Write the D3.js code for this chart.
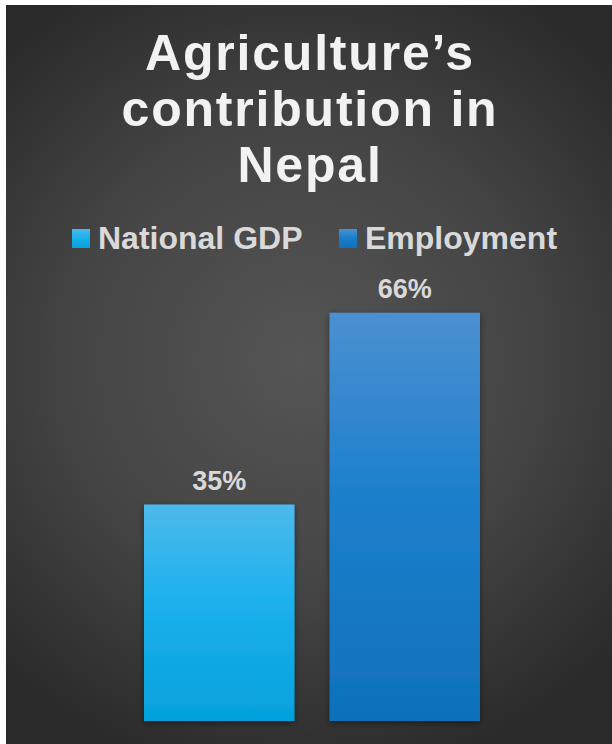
<!DOCTYPE html>
<html>
<head>
<meta charset="utf-8">
<script src="https://cdn.jsdelivr.net/npm/d3@7"></script>
<style>
html,body{margin:0;padding:0;background:#fff;}
svg{display:block;}
text{font-family:"Liberation Sans",Arial,sans-serif;font-weight:bold;}
</style>
</head>
<body>
<svg id="chart" width="612" height="744"></svg>
<script>
const titleLines = ["Agriculture’s", "contribution in", "Nepal"];
const series = ["National GDP", "Employment"];
const values = [0.35, 0.66];
const labels = ["35%", "66%"];

const svg = d3.select("#chart");
const defs = svg.append("defs");

// background radial gradient
const bg = defs.append("radialGradient").attr("id","bg")
  .attr("gradientUnits","userSpaceOnUse")
  .attr("cx",300).attr("cy",360).attr("r",430);
bg.append("stop").attr("offset","0%").attr("stop-color","#555555");
bg.append("stop").attr("offset","55%").attr("stop-color","#444444");
bg.append("stop").attr("offset","100%").attr("stop-color","#2a2a2a");

svg.append("rect").attr("x",6).attr("y",5).attr("width",606).attr("height",739).attr("fill","url(#bg)");

// bar gradients
const grads = [
  ["#4db9eb","#1cb1ed","#04a1dd"],
  ["#4b90d2","#1d7fcc","#0f71ba"]
];
grads.forEach((g,i)=>{
  const lg = defs.append("linearGradient").attr("id","g"+i).attr("x1",0).attr("y1",0).attr("x2",0).attr("y2",1);
  lg.append("stop").attr("offset","0%").attr("stop-color",g[0]);
  lg.append("stop").attr("offset","45%").attr("stop-color",g[1]);
  lg.append("stop").attr("offset","100%").attr("stop-color",g[2]);
});
const sh = defs.append("filter").attr("id","shadow").attr("x","-20%").attr("y","-20%").attr("width","140%").attr("height","140%");
sh.append("feDropShadow").attr("dx",0).attr("dy",2).attr("stdDeviation",3).attr("flood-color","#000").attr("flood-opacity",0.45);

// title
const title = svg.append("g").attr("transform","translate(310,0)");
title.selectAll("text").data(titleLines).join("text")
  .attr("x",0).attr("y",(d,i)=>70+i*56)
  .attr("text-anchor","middle")
  .attr("font-size",50)
  .attr("letter-spacing",1.8)
  .attr("fill","#f2f2f2")
  .text(d=>d);

// scales
const x = d3.scaleBand().domain(series).range([144,480]).paddingInner(0.189);
const y = d3.scaleLinear().domain([0,0.70]).range([721,288]);

// bars
svg.append("g").selectAll("rect").data(series).join("rect")
  .attr("x",d=>x(d))
  .attr("width",x.bandwidth())
  .attr("y",(d,i)=>y(values[i]))
  .attr("height",(d,i)=>y(0)-y(values[i]))
  .attr("fill",(d,i)=>`url(#g${i})`)
  .attr("filter","url(#shadow)");

// data labels
svg.append("g").selectAll("text").data(series).join("text")
  .attr("x",d=>x(d)+x.bandwidth()/2)
  .attr("y",(d,i)=>y(values[i])-15)
  .attr("text-anchor","middle")
  .attr("font-size",27)
  .attr("fill","#d9d9d9")
  .text((d,i)=>labels[i]);

// legend
const legX = [72,339];
const leg = svg.append("g").selectAll("g").data(series).join("g")
  .attr("transform",(d,i)=>`translate(${legX[i]},229)`);
leg.append("rect").attr("width",18).attr("height",19).attr("fill",(d,i)=>`url(#g${i})`);
leg.append("text").attr("x",26).attr("y",20).attr("font-size",32).attr("fill","#d9d9d9").text(d=>d);
</script>
</body>
</html>
